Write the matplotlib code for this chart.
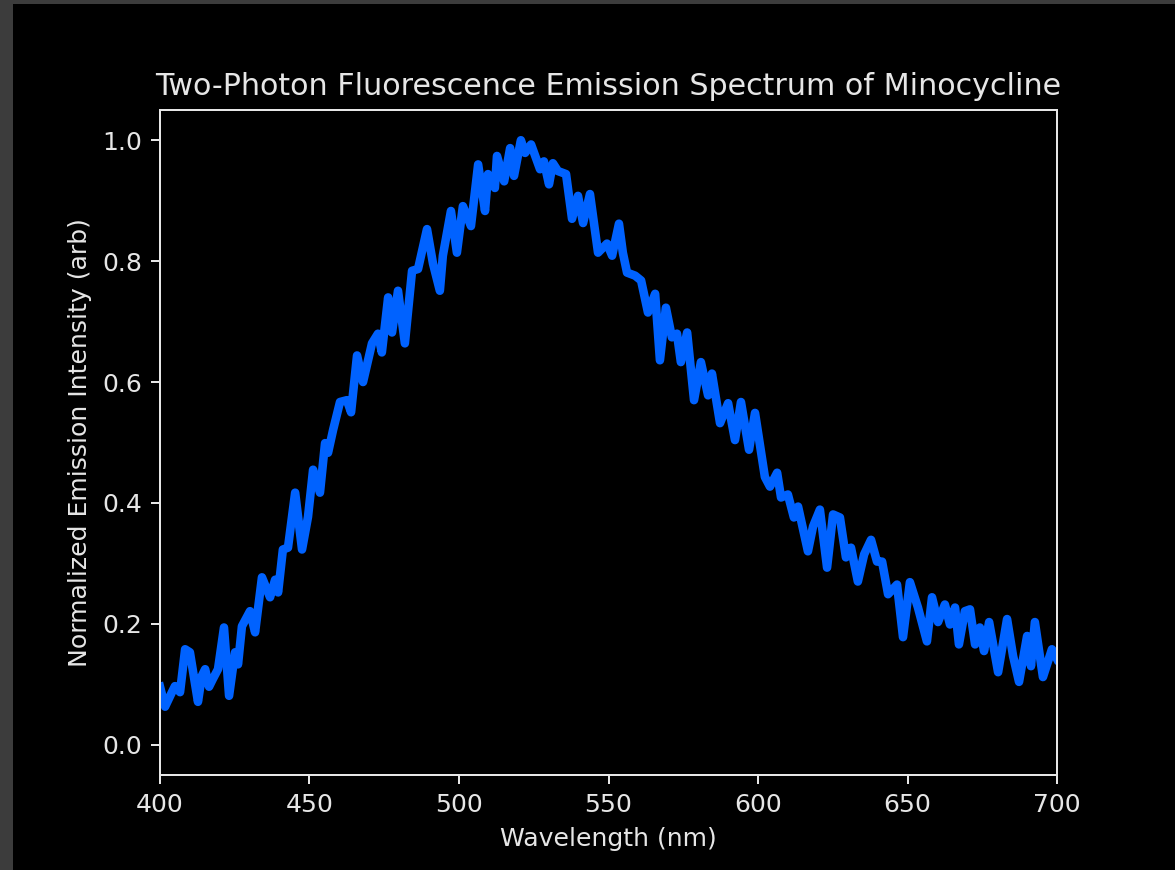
"""Two-photon emission spectrum of minocycline — dark style replot"""
import numpy as np
import matplotlib
matplotlib.use("Agg")
import matplotlib.pyplot as plt
from matplotlib.patches import Rectangle

# ── data ──
wavelength = [
    400.0, 401.7, 404.0, 405.0, 406.7, 408.4, 410.0, 412.7, 414.0, 415.1,
    416.4, 417.7, 419.4, 421.4, 423.1, 425.1, 426.1, 427.4, 430.1, 431.8,
    434.1, 436.8, 438.5, 439.5, 441.1, 442.8, 445.2, 447.5, 449.5, 451.2,
    453.5, 455.2, 456.2, 457.9, 460.2, 462.5, 463.9, 465.9, 467.9, 470.9,
    472.9, 474.2, 476.3, 477.6, 479.6, 481.9, 484.3, 486.3, 489.3, 491.3,
    493.6, 494.6, 497.3, 499.3, 501.3, 504.0, 506.4, 508.7, 509.7, 512.0,
    512.7, 515.1, 517.1, 518.4, 520.7, 522.1, 524.1, 527.1, 528.4, 530.1,
    531.4, 533.1, 535.8, 537.8, 539.8, 541.5, 543.8, 546.5, 549.5, 551.2,
    553.5, 554.8, 556.2, 558.9, 560.9, 563.2, 565.6, 567.2, 569.2, 571.2,
    572.9, 574.2, 576.3, 578.6, 580.9, 583.3, 584.6, 587.3, 590.0, 592.3,
    594.3, 597.0, 599.0, 602.3, 604.0, 606.4, 607.7, 610.0, 612.0, 613.4,
    616.7, 618.4, 620.7, 623.1, 625.1, 627.4, 629.4, 631.1, 633.4, 635.5,
    637.8, 639.8, 641.5, 643.5, 646.5, 648.5, 650.8, 653.5, 656.5, 658.2,
    660.2, 662.5, 664.2, 665.9, 667.2, 669.2, 670.9, 672.6, 674.2, 675.6,
    677.3, 680.3, 683.3, 685.3, 687.3, 690.0, 691.3, 692.6, 695.3, 698.3,
    700.0,
]
intensity = [
    0.096, 0.063, 0.087, 0.097, 0.087, 0.158, 0.153, 0.071, 0.114, 0.125,
    0.096, 0.109, 0.125, 0.194, 0.081, 0.153, 0.133, 0.196, 0.221, 0.186,
    0.277, 0.244, 0.273, 0.252, 0.323, 0.326, 0.417, 0.323, 0.377, 0.455,
    0.417, 0.499, 0.483, 0.521, 0.567, 0.570, 0.550, 0.644, 0.600, 0.664,
    0.680, 0.649, 0.740, 0.682, 0.751, 0.664, 0.784, 0.787, 0.853, 0.796,
    0.751, 0.809, 0.883, 0.814, 0.891, 0.858, 0.960, 0.883, 0.944, 0.921,
    0.974, 0.932, 0.987, 0.941, 1.000, 0.979, 0.993, 0.952, 0.965, 0.927,
    0.962, 0.949, 0.944, 0.870, 0.908, 0.863, 0.911, 0.814, 0.829, 0.809,
    0.862, 0.814, 0.781, 0.776, 0.768, 0.715, 0.746, 0.636, 0.723, 0.674,
    0.680, 0.633, 0.682, 0.570, 0.633, 0.578, 0.614, 0.532, 0.565, 0.504,
    0.567, 0.488, 0.549, 0.443, 0.427, 0.450, 0.409, 0.414, 0.376, 0.394,
    0.320, 0.361, 0.389, 0.293, 0.381, 0.376, 0.310, 0.326, 0.270, 0.315,
    0.339, 0.303, 0.303, 0.249, 0.265, 0.178, 0.269, 0.227, 0.171, 0.244,
    0.203, 0.232, 0.199, 0.227, 0.166, 0.221, 0.224, 0.166, 0.194, 0.155,
    0.203, 0.120, 0.208, 0.147, 0.104, 0.180, 0.130, 0.203, 0.112, 0.158,
    0.142,
]
x_ticks = [400, 450, 500, 550, 600, 650, 700]
y_ticks = [0.0, 0.2, 0.4, 0.6, 0.8, 1.0]

plt.style.use("dark_background")
TXT = "#e6e6e6"
plt.rcParams.update({"text.color": TXT, "axes.labelcolor": TXT,
                     "xtick.color": TXT, "ytick.color": TXT,
                     "axes.edgecolor": TXT})
DPI = 181
fig = plt.figure(figsize=(1175 / DPI, 870 / DPI), dpi=DPI, facecolor="#3c3c3c")
# black canvas inside the grey screenshot border
fig.patches.append(Rectangle((13 / 1175, 0), 1 - 13 / 1175, 1 - 4 / 870,
                             transform=fig.transFigure, facecolor="black",
                             edgecolor="none", zorder=-1))

ax = fig.add_axes([160 / 1175, 95 / 870, 897 / 1175, 665 / 870])
ax.set_facecolor("black")
ax.plot(wavelength, intensity, color="#0062ff", lw=3.4)

ax.set_xlim(400, 700)
ax.set_ylim(-0.05, 1.05)
ax.set_xticks(x_ticks)
ax.set_yticks(y_ticks)
ax.set_xlabel("Wavelength (nm)")
ax.set_ylabel("Normalized Emission Intensity (arb)")
ax.set_title("Two-Photon Fluorescence Emission Spectrum of Minocycline")

fig.savefig("out.png", dpi=DPI, facecolor=fig.get_facecolor())
